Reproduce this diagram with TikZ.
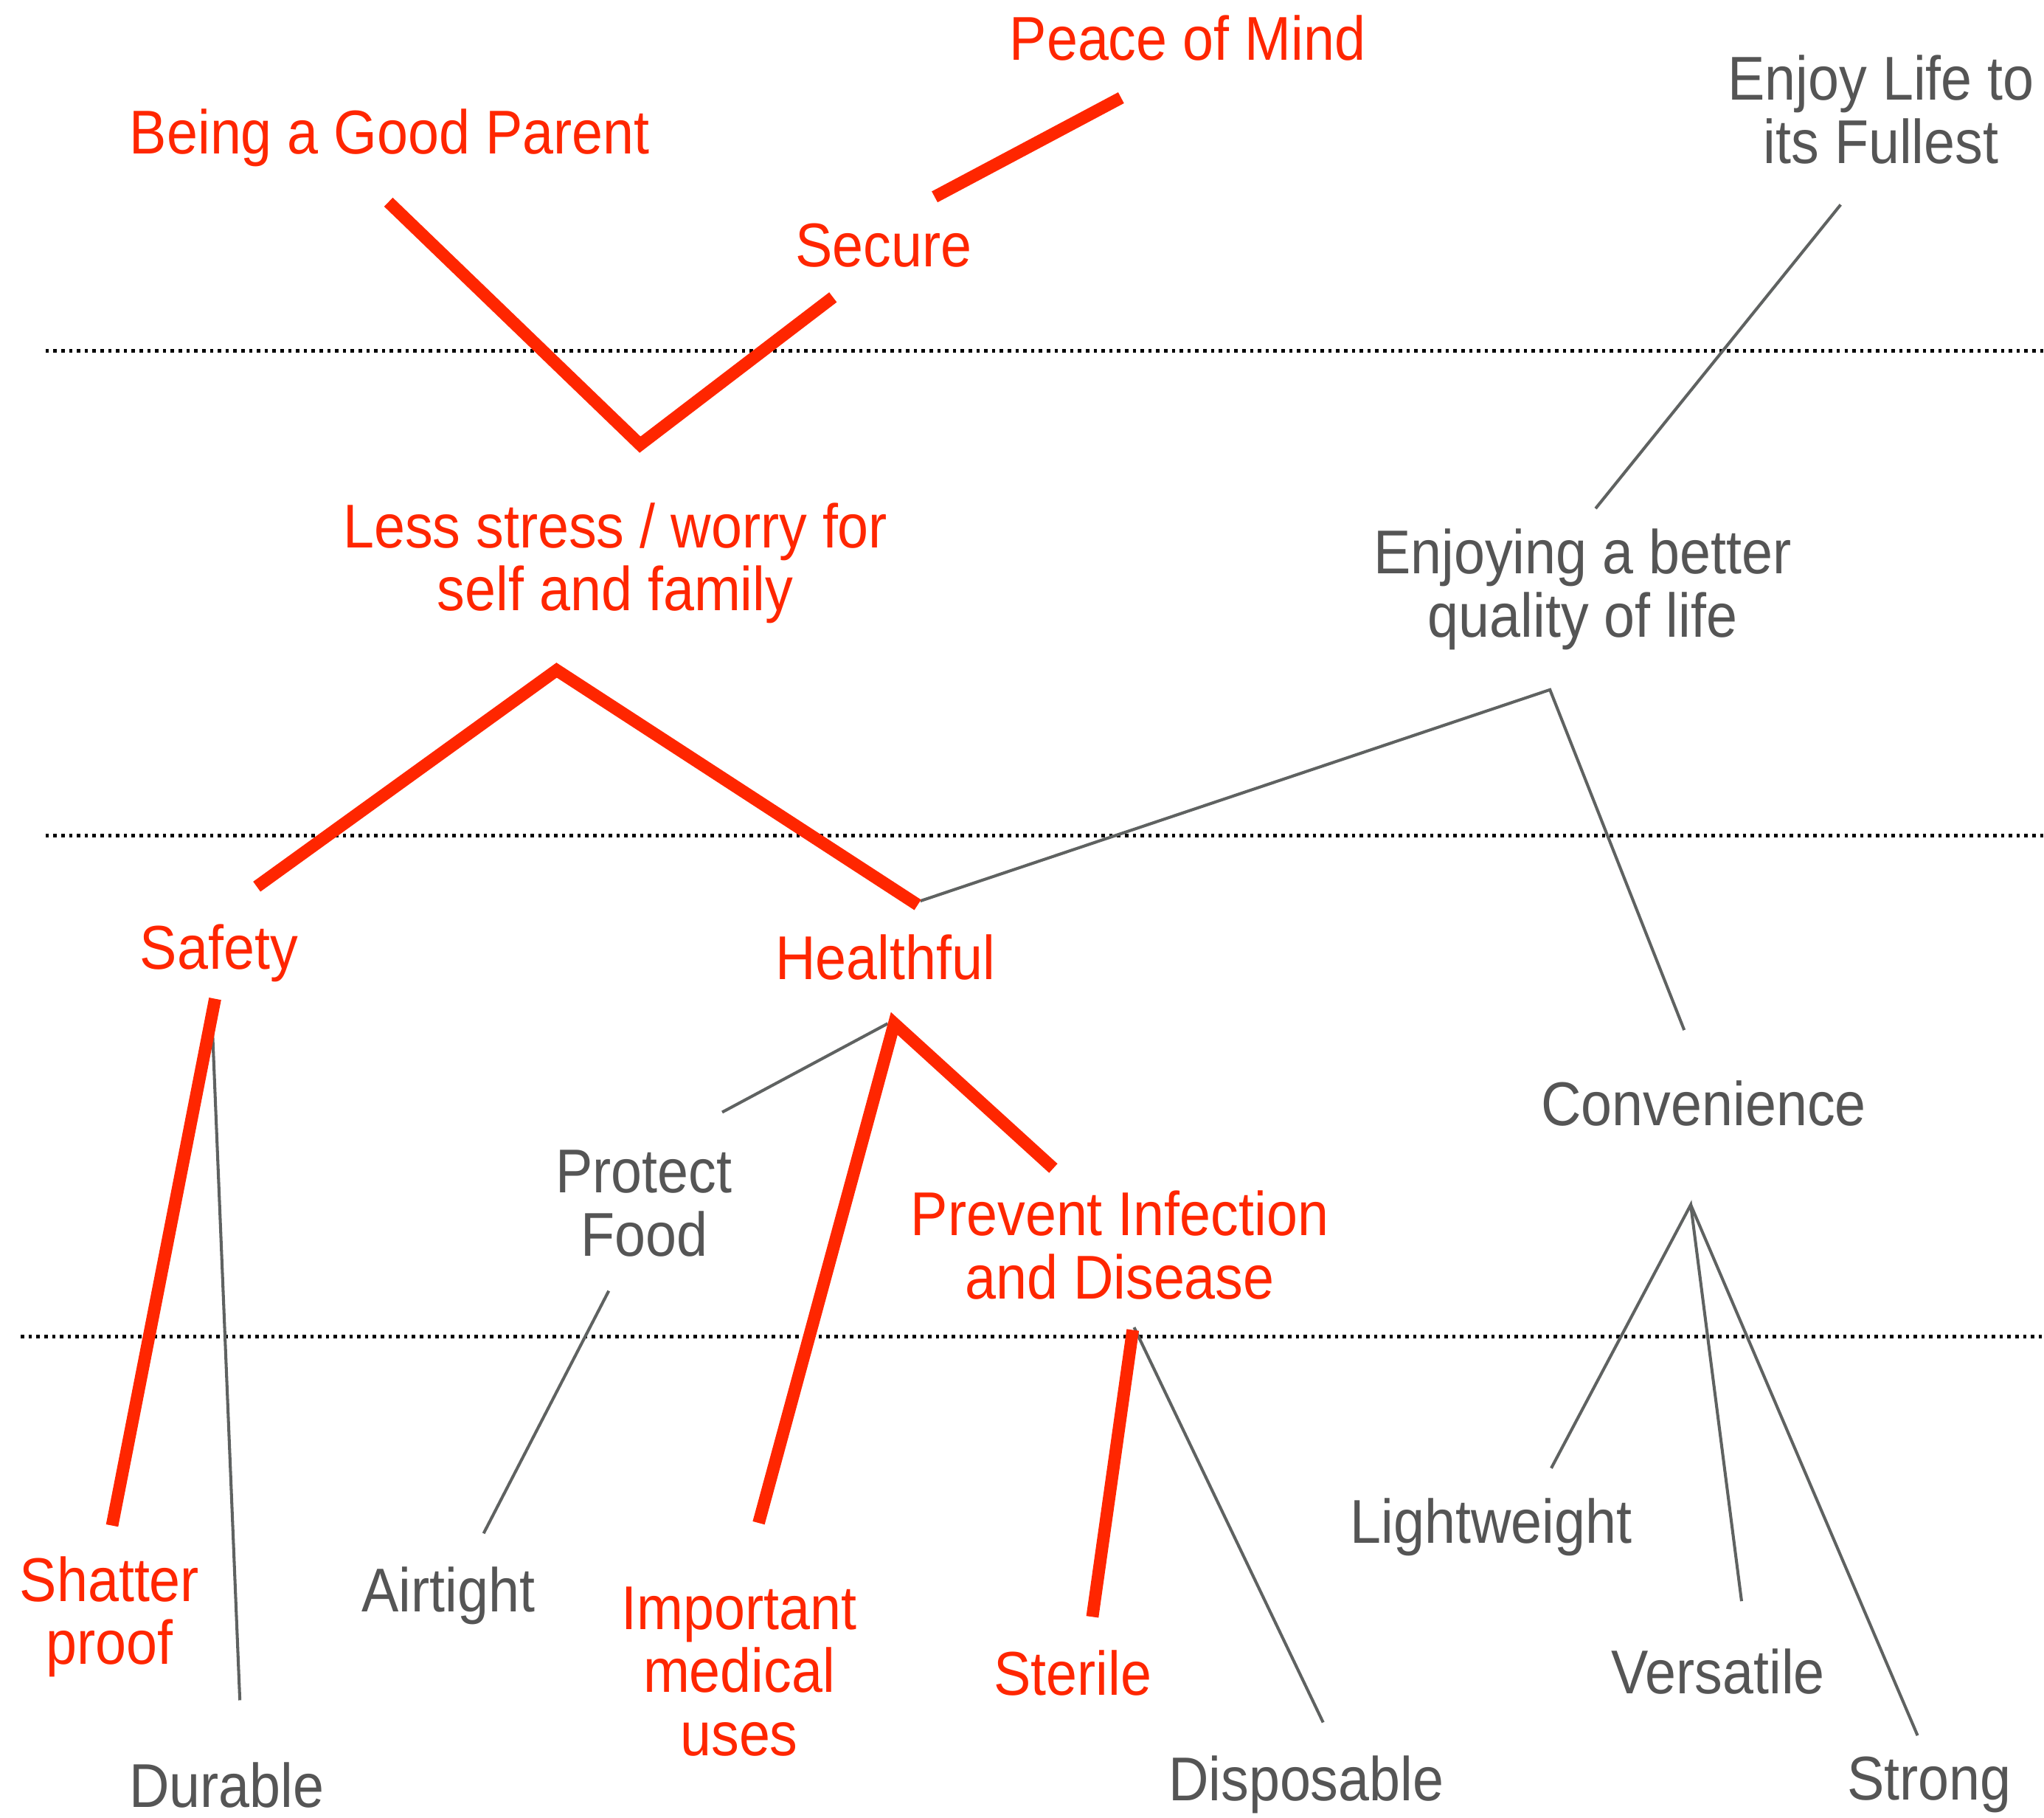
\documentclass[tikz,border=0pt]{standalone}
\usepackage{fontspec}
\setmainfont{Liberation Sans}[FakeStretch=0.9]
\definecolor{lred}{HTML}{FF2600}
\definecolor{lgray}{HTML}{555555}
\definecolor{lline}{HTML}{5F6261}
\begin{document}
\begin{tikzpicture}[x=0.1mm,y=-0.1mm,
  lbl/.style={align=center,font=\fontsize{13.5}{13.8}\selectfont,inner sep=0pt},
  rtxt/.style={lbl,text=lred},
  gtxt/.style={lbl,text=lgray},
  strongtie/.style={draw=lred,line width=0.95mm,line join=miter},
  weaktie/.style={draw=lline,line width=0.23mm},
  levelline/.style={draw=black,line width=0.28mm,dash pattern=on 0.26mm off 0.34mm}]
\useasboundingbox (0,0) rectangle (1568,1394);

% level separators
\coordinate (l1a) at (35,269);   \coordinate (l1b) at (1568,269);
\coordinate (l2a) at (35,641);   \coordinate (l2b) at (1568,641);
\coordinate (l3a) at (16,1025);  \coordinate (l3b) at (1568,1025);
\draw[levelline] (l1a) -- (l1b);
\draw[levelline] (l2a) -- (l2b);
\draw[levelline] (l3a) -- (l3b);

% labels
\node[rtxt] (peace)   at (911,29)   {Peace of Mind};
\node[gtxt] (enjoy)   at (1443,84)  {Enjoy Life to\\its Fullest};
\node[rtxt] (parent)  at (299,106)  {Being a Good Parent};
\node[rtxt] (secure)  at (678,188)  {Secure};
\node[rtxt] (stress)  at (472,432)  {Less stress / worry for\\self and family};
\node[gtxt] (quality) at (1214,452) {Enjoying a better\\quality of life};
\node[rtxt] (safety)  at (168,731)  {Safety};
\node[rtxt] (health)  at (679,734)  {Healthful};
\node[gtxt] (conv)    at (1307,846) {Convenience};
\node[gtxt] (protect) at (494,923)  {Protect\\Food};
\node[rtxt] (prevent) at (859,955)  {Prevent Infection\\and Disease};
\node[gtxt] (light)   at (1144,1171) {Lightweight};
\node[rtxt] (shatter) at (84,1240)  {Shatter\\proof};
\node[gtxt] (airtight) at (344,1224) {Airtight};
\node[rtxt] (medical) at (567,1282) {Important\\medical\\uses};
\node[rtxt] (sterile) at (823,1283) {Sterile};
\node[gtxt] (versatile) at (1318,1282) {Versatile};
\node[gtxt] (durable) at (174,1369) {Durable};
\node[gtxt] (dispos)  at (1002,1369) {Disposable};
\node[gtxt] (strong)  at (1480,1369) {Strong};

% connector end points
\coordinate (parentE)  at (298,155);
\coordinate (stressV)  at (491,341);
\coordinate (secureW)  at (639,228);
\coordinate (secureE)  at (717,151);
\coordinate (peaceS)   at (860,75);
\coordinate (enjoyS)   at (1412,157);
\coordinate (qualityN) at (1224,390);
\coordinate (safetyN)  at (197,680);
\coordinate (stressS)  at (427,514);
\coordinate (healthN)  at (704,694);
\coordinate (healthE)  at (706,691);
\coordinate (qualityS) at (1189,529);
\coordinate (convN)    at (1292,790);
\coordinate (safetyS)  at (165,766);
\coordinate (safetyS2) at (162,766);
\coordinate (shatterN) at (86,1170);
\coordinate (durableN) at (184,1304);
\coordinate (healthS)  at (686,785);
\coordinate (healthS2) at (681,785);
\coordinate (medicalN) at (582,1168);
\coordinate (preventN) at (808,896);
\coordinate (protectN) at (554,853);
\coordinate (protectS) at (467,990);
\coordinate (airtightN) at (371,1176);
\coordinate (preventS) at (869,1020);
\coordinate (preventS2) at (870,1018);
\coordinate (sterileN) at (838,1240);
\coordinate (disposN)  at (1015,1321);
\coordinate (convS)    at (1297,924);
\coordinate (lightN)   at (1190,1126);
\coordinate (versN)    at (1336,1228);
\coordinate (strongN)  at (1471,1331);

% weak ties
\draw[weaktie] (qualityN) -- (enjoyS);
\draw[weaktie] (healthE) -- (qualityS) -- (convN);
\draw[weaktie] (safetyS2) -- (durableN);
\draw[weaktie] (protectN) -- (healthS2);
\draw[weaktie] (protectS) -- (airtightN);
\draw[weaktie] (preventS2) -- (disposN);
\draw[weaktie] (lightN) -- (convS) -- (versN);
\draw[weaktie] (convS) -- (strongN);

% strong ties
\draw[strongtie] (parentE) -- (stressV) -- (secureW);
\draw[strongtie] (secureE) -- (peaceS);
\draw[strongtie] (safetyN) -- (stressS) -- (healthN);
\draw[strongtie] (safetyS) -- (shatterN);
\draw[strongtie] (medicalN) -- (healthS) -- (preventN);
\draw[strongtie] (preventS) -- (sterileN);
\end{tikzpicture}
\end{document}
